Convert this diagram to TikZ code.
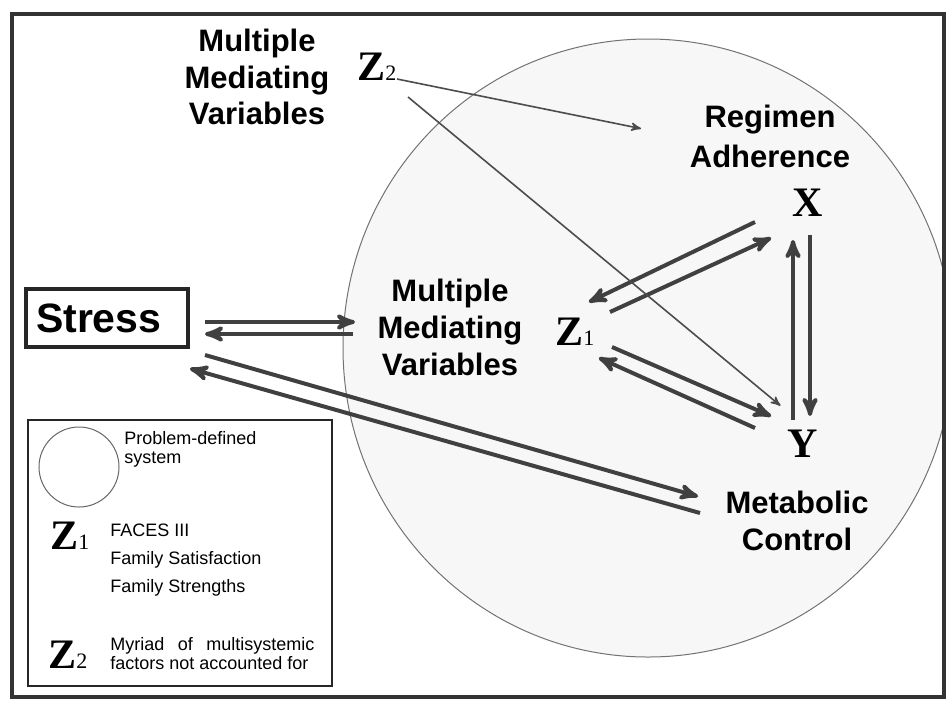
\documentclass[tikz,border=0pt]{standalone}
\usepackage{fontspec}
\setmainfont{Liberation Sans}
\newfontfamily\timesfont{Liberation Serif}
\usetikzlibrary{arrows}

\newcommand{\idx}[1]{{\mdseries\fontsize{11}{11}\selectfont#1}}

\begin{document}
\begin{tikzpicture}[x=0.5pt,y=-0.5pt,>=stealth',shorten >=1pt,
    heading/.style={font=\bfseries\fontsize{15.5}{18.5}\selectfont,align=center,inner sep=0pt},
    var/.style={font=\timesfont\bfseries\fontsize{21}{21}\selectfont,inner sep=0pt},
    keytext/.style={font=\fontsize{9}{9.5}\selectfont,align=left,inner sep=0pt,anchor=north west},
    stressbox/.style={draw=black!85,line width=2pt,minimum width=81pt,minimum height=29pt,
      text width=71pt,inner xsep=4.5pt,align=left,font=\bfseries\fontsize{20.5}{21}\selectfont},
    thick arrow/.style={->,color=black!75,line width=2pt},
    thin arrow/.style={->,color=black!70,line width=0.8pt}]
    \useasboundingbox (0,0) rectangle (952,703);

    % problem-defined system
    \begin{scope}
      \clip (12,14) rectangle (944,697);
      \draw[black!55,line width=0.5pt,fill=black!3] (648,348) ellipse [x radius=305,y radius=309];
    \end{scope}
    \draw[black!80,line width=2pt] (12,14) rectangle (944,697);

    \node[stressbox] (stress) at (107,318) {Stress};
    \node[heading,font=\bfseries\fontsize{15.5}{18.25}\selectfont] (mmvtop) at (257,77) {Multiple\\Mediating\\Variables};
    \node[heading] (mmv) at (450,327) {Multiple\\Mediating\\Variables};
    \node[heading,font=\bfseries\fontsize{15.5}{20}\selectfont] (regimen) at (770,136) {Regimen\\Adherence};
    \node[heading] (metab) at (797,521) {Metabolic\\Control};

    \node[var] (x) at (808,203) {X};
    \node[var] (y) at (803,444) {Y};
    \node[var,anchor=base west] (z1) at (555,345) {Z\idx{1}};
    \node[var,anchor=base west] (z2) at (357,80) {Z\idx{2}};

    \path[thick arrow]
    ([shift={(98,4)}]stress.center) edge ([shift={(-93,-5)}]mmv.center)
    ([shift={(-97,7)}]mmv.center) edge ([shift={(96,16)}]stress.center)

    ([shift={(98,37)}]stress.center) edge ([shift={(-97,-24)}]metab.center)
    ([shift={(-97,-8)}]metab.center) edge ([shift={(81,50)}]stress.center)

    ([shift={(-53,19)}]x.center) edge ([shift={(32,-42)}]z1.base west)
    ([shift={(55,-33)}]z1.base west) edge ([shift={(-35,34)}]x.center)

    ([shift={(2,32)}]x.center) edge ([shift={(7,-26)}]y.center)
    ([shift={(-10,-24)}]y.center) edge ([shift={(-15,35)}]x.center)

    ([shift={(57,2)}]z1.base west) edge ([shift={(-30,-27)}]y.center)
    ([shift={(-48,-16)}]y.center) edge ([shift={(42,12)}]z1.base west)
    ;

    \path[thin arrow]
    ([shift={(40,-1)}]z2.base west) edge ([shift={(-127,-7)}]regimen.center)
    ([shift={(51,17)}]z2.base west) edge ([shift={(-21,-37)}]y.center)
    ;

    % legend
    \draw[black!85,line width=1.4pt] (28,420) rectangle (332,686);
    \draw[black!60,line width=0.5pt] (79,467) circle [radius=40];
    \node[keytext] (sys) at (124,431) {Problem-defined\\system};
    \node[var,anchor=base west] (lz1) at (50,549) {Z\idx{1}};
    \node[keytext,font=\fontsize{9}{14}\selectfont] (faces) at (110,524) {FACES III\\Family Satisfaction\\Family Strengths};
    \node[var,anchor=base west] (lz2) at (48,668) {Z\idx{2}};
    \node[keytext] (myriad) at (110,637) {\makebox[102pt][s]{Myriad of multisystemic}\\factors not accounted for};
\end{tikzpicture}
\end{document}
